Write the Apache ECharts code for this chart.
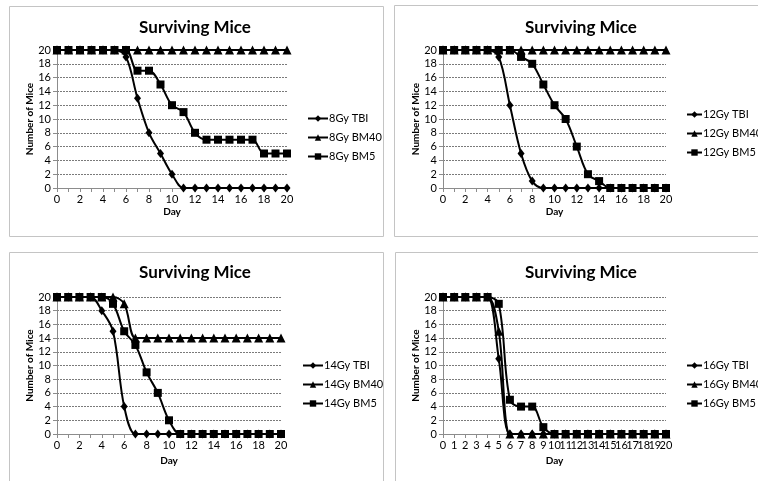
<!DOCTYPE html>
<html>
<head>
<meta charset="utf-8">
<script src="https://cdn.jsdelivr.net/npm/echarts@6/dist/echarts.min.js"></script>
<style>
  html, body { margin: 0; padding: 0; background: #fff; }
  #chart { width: 758px; height: 481px; }
</style>
</head>
<body>
<div id="chart"></div>
<script>
// Day numbers shared by all four panels
const days = ['0','1','2','3','4','5','6','7','8','9','10','11','12','13','14','15','16','17','18','19','20'];

// 8 Gy
const names8 = ['8Gy TBI', '8Gy BM40', '8Gy BM5'];
const tbi8  = [20,20,20,20,20,20,19,13,8,5,2,0,0,0,0,0,0,0,0,0,0];
const bm40_8 = [20,20,20,20,20,20,20,20,20,20,20,20,20,20,20,20,20,20,20,20,20];
const bm5_8  = [20,20,20,20,20,20,20,17,17,15,12,11,8,7,7,7,7,7,5,5,5];

// 12 Gy
const names12 = ['12Gy TBI', '12Gy BM40', '12Gy BM5'];
const tbi12  = [20,20,20,20,20,19,12,5,1,0,0,0,0,0,0,0,0,0,0,0,0];
const bm40_12 = [20,20,20,20,20,20,20,20,20,20,20,20,20,20,20,20,20,20,20,20,20];
const bm5_12  = [20,20,20,20,20,20,20,19,18,15,12,10,6,2,1,0,0,0,0,0,0];

// 14 Gy
const names14 = ['14Gy TBI', '14Gy BM40', '14Gy BM5'];
const tbi14  = [20,20,20,20,18,15,4,0,0,0,0,0,0,0,0,0,0,0,0,0,0];
const bm40_14 = [20,20,20,20,20,20,19,14,14,14,14,14,14,14,14,14,14,14,14,14,14];
const bm5_14  = [20,20,20,20,20,19,15,13,9,6,2,0,0,0,0,0,0,0,0,0,0];

// 16 Gy
const names16 = ['16Gy TBI', '16Gy BM40', '16Gy BM5'];
const tbi16  = [20,20,20,20,20,11,0,0,0,0,0,0,0,0,0,0,0,0,0,0,0];
const bm40_16 = [20,20,20,20,20,15,0,0,0,0,0,0,0,0,0,0,0,0,0,0,0];
const bm5_16  = [20,20,20,20,20,19,5,4,4,1,0,0,0,0,0,0,0,0,0,0,0];

const titleText = 'Surviving Mice';
const xName = 'Day';
const yName = 'Number of Mice';

const FONT = 'Lato, "Open Sans", sans-serif';

// layout of each panel: frame, plot area, title centre, legend anchor
const panels = [
  { names: names8,  data: [tbi8, bm40_8, bm5_8],
    frame: [9, 6, 374, 230], grid: { left: 57, top: 50, width: 230, height: 138 },
    title: [195, 28], legend: [307, 113], keyWidth: 20, labelEvery: 1, nameGap: 19 },
  { names: names12, data: [tbi12, bm40_12, bm5_12],
    frame: [394, 5, 380, 231], grid: { left: 443, top: 50, width: 223, height: 138 },
    title: [581, 28], legend: [686, 109], keyWidth: 15, labelEvery: 1, nameGap: 19 },
  { names: names14, data: [tbi14, bm40_14, bm5_14],
    frame: [9, 252, 374, 240], grid: { left: 57, top: 297, width: 224, height: 137 },
    title: [195, 273], legend: [302, 360], keyWidth: 20, labelEvery: 1, nameGap: 22 },
  { names: names16, data: [tbi16, bm40_16, bm5_16],
    frame: [395, 252, 380, 240], grid: { left: 443, top: 297, width: 223, height: 137 },
    title: [581, 273], legend: [686, 360], keyWidth: 15, labelEvery: 0, nameGap: 22 }
];

const symbols = [
  { symbol: 'diamond', size: [7, 9] },
  { symbol: 'triangle', size: 9 },
  { symbol: 'rect', size: 8 }
];

const option = {
  backgroundColor: '#ffffff',
  animation: false,
  textStyle: { fontFamily: FONT },
  graphic: [],
  legend: [],
  grid: [],
  xAxis: [],
  yAxis: [],
  series: []
};

panels.forEach((p, i) => {
  option.graphic.push({
    type: 'rect',
    shape: { x: p.frame[0] + 0.5, y: p.frame[1] + 0.5, width: p.frame[2], height: p.frame[3] },
    style: { fill: 'none', stroke: '#c4c4c4', lineWidth: 1 },
    z: -1
  });
  option.graphic.push({
    type: 'text',
    x: p.title[0], y: p.title[1],
    style: {
      text: titleText, fill: '#000', font: 'bold 17px ' + FONT,
      align: 'center', verticalAlign: 'middle'
    }
  });
  option.legend.push({
    orient: 'vertical',
    left: p.legend[0], top: p.legend[1],
    itemWidth: p.keyWidth, itemHeight: 8, itemGap: 8,
    padding: 0,
    data: p.names,
    textStyle: { fontSize: 11, color: '#000', fontFamily: FONT, padding: [0, 0, 0, -4] },
    inactiveColor: '#000',
    selectedMode: false
  });
  option.grid.push(Object.assign({ containLabel: false }, p.grid));
  option.xAxis.push({
    type: 'category', gridIndex: i, data: days, boundaryGap: false,
    name: xName, nameLocation: 'middle', nameGap: p.nameGap,
    nameTextStyle: { fontWeight: 'bold', fontSize: 10, color: '#000', fontFamily: FONT },
    axisLine: { lineStyle: { color: '#8c8c8c', width: 1 } },
    axisTick: { show: true, interval: 0, length: 4, lineStyle: { color: '#8c8c8c' } },
    axisLabel: { interval: p.labelEvery, fontSize: 11, color: '#000', margin: 6, fontFamily: FONT },
    splitLine: { show: false }
  });
  option.yAxis.push({
    type: 'value', gridIndex: i, min: 0, max: 20, interval: 2,
    name: yName, nameLocation: 'middle', nameGap: 22,
    nameTextStyle: { fontWeight: 'bold', fontSize: 10, color: '#000', fontFamily: FONT },
    axisLine: { show: true, lineStyle: { color: '#8c8c8c', width: 1 } },
    axisTick: { show: true, length: 4, lineStyle: { color: '#8c8c8c' } },
    axisLabel: { fontSize: 11, color: '#000', margin: 6, fontFamily: FONT },
    splitLine: { show: true, lineStyle: { color: '#7a7a7a', type: [2, 1], width: 1 } }
  });
  p.names.forEach((name, k) => {
    option.series.push({
      type: 'line', name: name,
      xAxisIndex: i, yAxisIndex: i,
      data: p.data[k],
      smooth: 0.35,
      symbol: symbols[k].symbol,
      symbolSize: symbols[k].size,
      showAllSymbol: true,
      itemStyle: { color: '#000' },
      lineStyle: { color: '#000', width: 2 },
      z: 3 + k
    });
  });
});

const chart = echarts.init(document.getElementById('chart'), null, { renderer: 'canvas' });
chart.setOption(option);
</script>
</body>
</html>
